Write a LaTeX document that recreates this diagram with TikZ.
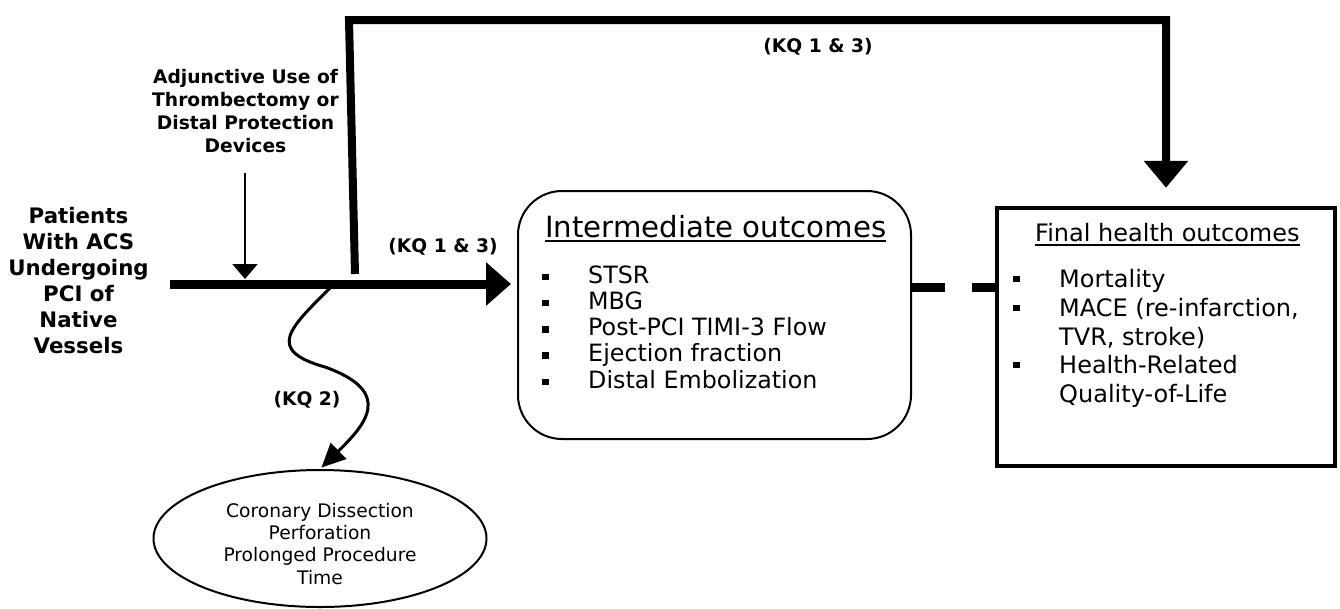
\documentclass[tikz,border=0pt]{standalone}
\usepackage{fontspec}
\setmainfont{DejaVu Sans}
\usetikzlibrary{arrows.meta,shapes.geometric}
\tikzset{
  boldlbl/.style={font=\bfseries\fontsize{18.67}{22.7}\selectfont, align=center, inner sep=0pt},
  patlbl/.style={font=\bfseries\fontsize{21.33}{26}\selectfont, align=center, inner sep=0pt},
  kqlbl/.style={font=\bfseries\fontsize{18.67}{22.7}\selectfont, inner sep=0pt, anchor=base},
  ihead/.style={font=\fontsize{29.2}{34}\selectfont, inner sep=0pt, anchor=base west},
  fhead/.style={font=\fontsize{24}{29}\selectfont, inner sep=0pt, anchor=base west},
  iitem/.style={font=\fontsize{23.8}{26}\selectfont, inner sep=0pt, anchor=base west},
  fitem/.style={font=\fontsize{24}{29}\selectfont, inner sep=0pt, anchor=base west},
  elltext/.style={font=\fontsize{18.67}{22.4}\selectfont, align=center, inner sep=0pt},
  thickarrow/.style={line width=9pt, -{Triangle[width=42pt,length=25pt]}},
  toparrow/.style={line width=8pt, line join=miter, -{Triangle[width=43pt,length=27pt]}},
  thinarrow/.style={line width=2pt, -{Triangle[width=25pt,length=15pt]}},
  wavearrow/.style={line width=3pt, -{Triangle[width=22pt,length=24pt]}},
  dashline/.style={line width=9pt, dash pattern=on 33pt off 27pt},
  ulinestyle/.style={line width=1.8pt},
}
\begin{document}
\begin{tikzpicture}[x=1pt,y=-1pt]
\useasboundingbox (0,0) rectangle (1340,608);

% boxes
\node[draw, line width=2pt, rounded corners=44pt, minimum width=393pt, minimum height=248pt, inner sep=0pt] (inter) at (714.5,315) {};
\node[draw, line width=4.5pt, minimum width=338pt, minimum height=258pt, inner sep=0pt] (fin) at (1166,337) {};
\node[draw, ellipse, line width=2pt, minimum width=333pt, minimum height=137pt, inner sep=0pt] (ell) at (320,538.5) {};

% texts
\node[patlbl] (pat) at (78.5,281) {Patients\\With ACS\\Undergoing\\PCI of\\Native\\Vessels};
\node[boldlbl] (adj) at (245.5,111) {Adjunctive Use of\\Thrombectomy or\\Distal Protection\\Devices};
\node[kqlbl] (kqa) at (443,252) {(KQ 1 \& 3)};
\node[kqlbl] (kqb) at (818,52) {(KQ 1 \& 3)};
\node[kqlbl] (kqc) at (307,405) {(KQ 2)};
\node[elltext] (elltx) at (320,543.7) {Coronary Dissection\\Perforation\\Prolonged Procedure\\Time};

% intermediate outcomes
\node[ihead] (ih) at (545,237) {Intermediate outcomes};
\draw[ulinestyle] ([yshift=-4pt]ih.base west) -- ([yshift=-4pt]ih.base east);
\foreach \t [count=\i] in {STSR,MBG,Post-PCI TIMI-3 Flow,Ejection fraction,Distal Embolization}{
  \node[iitem] (im\i) at (588,{257+26.2*\i}) {\t};
  \fill ([shift={(-46,-9.5)}]im\i.base west) rectangle ++(6.5,6.5);
}

% final health outcomes
\node[fhead] (fh) at (1035,241) {Final health outcomes};
\draw[ulinestyle] ([yshift=-4pt]fh.base west) -- ([yshift=-4pt]fh.base east);
\node[fitem] (f1) at (1059,287) {Mortality};
\node[fitem] (f2) at (1059,316) {MACE (re-infarction,};
\node[fitem] (f3) at (1059,345) {TVR, stroke)};
\node[fitem] (f4) at (1059,373) {Health-Related};
\node[fitem] (f5) at (1059,402) {Quality-of-Life};
\foreach \f in {f1,f2,f4}{
  \fill ([shift={(-46,-11.5)}]\f.base west) rectangle ++(6.5,6.5);
}

% connectors
\coordinate (pstart) at (170,284);
\coordinate (adjend) at (245,279);
\coordinate (tstart) at (355,274);
\coordinate (tl) at (349,20);
\coordinate (wstart) at (330,288);
\coordinate (wmid) at (325,367);
\coordinate (dline) at (0,287.5);

\draw[thickarrow, shorten >=6pt] (pstart) -- (pstart -| inter.west);
\draw[thinarrow] ([yshift=-21pt]adj.south -| adjend) -- (adjend);
\draw[toparrow, shorten >=18pt] (tstart) -- (tl) -- (tl -| fin.north) -- (fin.north);
\draw[dashline] (inter.east |- dline) -- (fin.west |- dline);
\draw[wavearrow, shorten >=2pt] (wstart) .. controls (290,328) and (265,350) .. (wmid) .. controls (395,392) and (365,425) .. (ell.north);
\end{tikzpicture}
\end{document}
